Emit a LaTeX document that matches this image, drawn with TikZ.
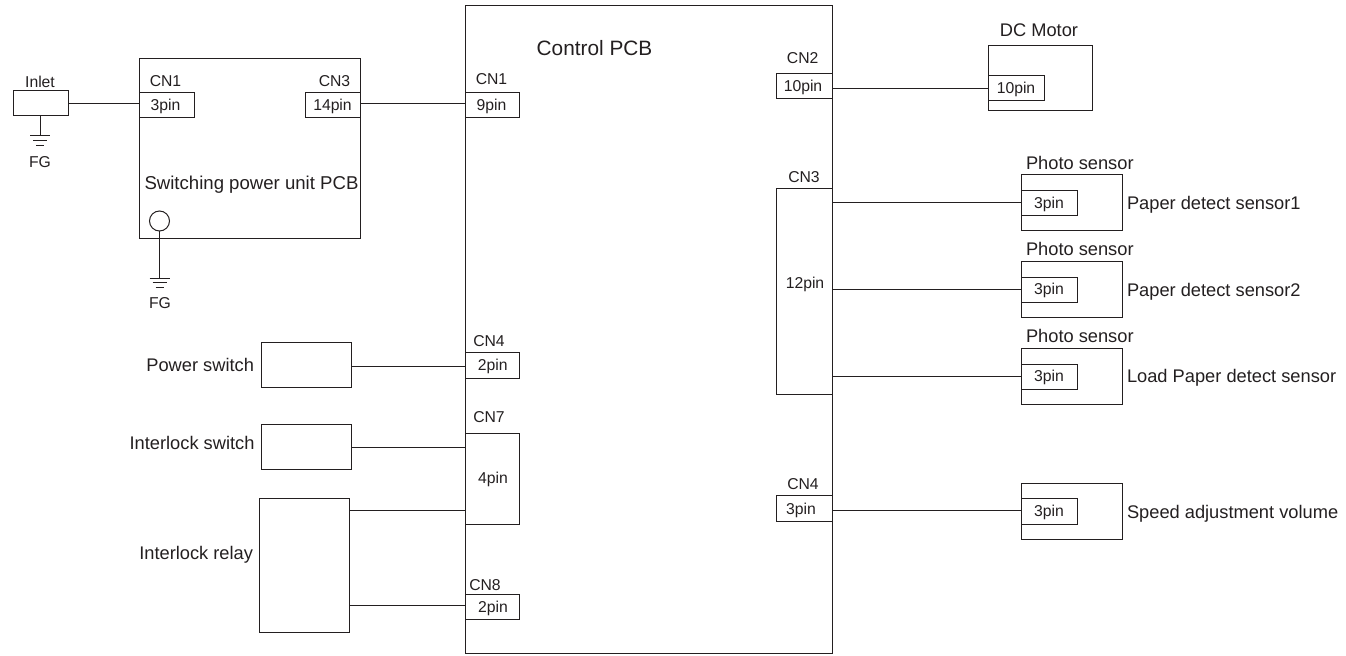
\documentclass[tikz,border=0pt]{standalone}
\usepackage{fontspec}
\setmainfont{Liberation Sans}
\definecolor{ink}{HTML}{231F20}
\tikzset{
  boxn/.style={draw=ink,line width=0.75pt,rectangle,inner sep=0pt,outer sep=0pt},
  wire/.style={draw=ink,line width=0.75pt},
  lbl/.style={text=ink,inner sep=0pt,outer sep=0pt,font=\fontsize{13.7pt}{15pt}\selectfont},
  sml/.style={text=ink,inner sep=0pt,outer sep=0pt,font=\fontsize{11.8pt}{13pt}\selectfont},
}
\newcommand{\rectnode}[5]{%
  \pgfmathsetmacro\rw{(#4-#2)*0.75}\pgfmathsetmacro\rh{(#5-#3)*0.75}%
  \node[boxn,minimum width=\rw pt,minimum height=\rh pt] (#1) at ({(#2+#4)/2},{(#3+#5)/2}) {};}
\newcommand{\wireh}[3]{\draw[wire] (#1.east |- 0,#3) -- (#2.west |- 0,#3);}
\begin{document}
\begin{tikzpicture}[x=0.75pt,y=-0.75pt]
\useasboundingbox (0,0) rectangle (1346,656);
% main boards
\rectnode{pcb}{465}{6}{832}{653}
\rectnode{psu}{139.5}{59}{360}{238.5}
\rectnode{inlet}{13.5}{90.7}{68}{116}
% connectors
\rectnode{psuA}{139.5}{92.5}{194.5}{118}
\rectnode{psuC}{305}{92.5}{360}{118}
\rectnode{pcbAa}{465}{92.5}{519.5}{118}
\rectnode{pcbD}{465}{352.7}{519.5}{378}
\rectnode{pcbG}{465}{433.3}{519.5}{524}
\rectnode{pcbH}{465}{594}{519.5}{619.5}
\rectnode{pcbB}{776.7}{73.3}{832}{98.7}
\rectnode{pcbC}{776.7}{189}{832}{394}
\rectnode{pcbE}{776.7}{495.7}{832}{521}
% left devices
\rectnode{pwr}{261}{342}{351.5}{387.5}
\rectnode{ilsw}{261}{424}{351.5}{469.5}
\rectnode{relay}{259}{498}{349.5}{632}
% right devices
\rectnode{motor}{988.7}{46}{1092}{111}
\rectnode{motorC}{988.7}{75.5}{1044}{101}
\rectnode{sa}{1021.7}{175}{1122}{231}
\rectnode{saC}{1021.7}{190.5}{1077}{216}
\rectnode{sb}{1021.7}{261.3}{1122}{317.3}
\rectnode{sbC}{1021.7}{277}{1077}{302.5}
\rectnode{sc}{1021.7}{348}{1122}{404}
\rectnode{scC}{1021.7}{364}{1077}{389}
\rectnode{sd}{1021.7}{483}{1122}{539}
\rectnode{sdC}{1021.7}{498.5}{1077}{524}
% wires
\wireh{inlet}{psuA}{104}
\wireh{psuC}{pcbAa}{104}
\wireh{pwr}{pcbD}{366}
\wireh{ilsw}{pcbG}{447.5}
\wireh{relay}{pcbG}{510}
\wireh{relay}{pcbH}{605}
\wireh{pcbB}{motorC}{88.5}
\wireh{pcbC}{saC}{203}
\wireh{pcbC}{sbC}{289.7}
\wireh{pcbC}{scC}{376}
\wireh{pcbE}{sdC}{510}
% grounds
\coordinate (g1) at (40,136);
\draw[wire] (inlet.south -| g1) -- (g1);
\draw[wire] (30,136) -- (50,136) (33,140.7) -- (47,140.7) (36,145.3) -- (44,145.3);
\node[boxn,circle,minimum size=15pt] (gc) at (159.5,221) {};
\coordinate (g2) at (159.5,278);
\draw[wire] (gc.south) -- (g2);
\draw[wire] (149.5,278) -- (169.5,278) (152.5,282.7) -- (166.5,282.7) (155.5,287.3) -- (163.5,287.3);
% small labels
\node[sml] (tFGa) at (40,162) {FG};
\node[sml] (tFGb) at (160,303) {FG};
\node[sml] (tInlet) at (40,81.5) {Inlet};
\node[sml] (tA) at (165.5,81.5) {CN1};
\node[sml] (tB) at (165.5,106) {3pin};
\node[sml] (tC) at (334.5,81.5) {CN3};
\node[sml] (tD) at (332.5,106.5) {14pin};
\node[sml] (tE) at (491.5,79) {CN1};
\node[sml] (tF) at (491.5,106) {9pin};
\node[sml] (tG) at (489,341) {CN4};
\node[sml] (tH) at (492.7,366.5) {2pin};
\node[sml] (tI) at (489,417) {CN7};
\node[sml] (tJ) at (493,479.5) {4pin};
\node[sml] (tK) at (485,585) {CN8};
\node[sml] (tL) at (493,608.5) {2pin};
\node[sml] (tM) at (802.7,58.5) {CN2};
\node[sml] (tN) at (803,87.5) {10pin};
\node[sml] (tO) at (804,177) {CN3};
\node[sml] (tP) at (805,284.5) {12pin};
\node[sml] (tQ) at (803,484) {CN4};
\node[sml] (tR) at (801,510.5) {3pin};
\node[sml] (tS) at (1016,89.5) {10pin};
\node[sml] (tT) at (1049,204.5) {3pin};
\node[sml] (tU) at (1049,290.5) {3pin};
\node[sml] (tV) at (1049,377.5) {3pin};
\node[sml] (tW) at (1049,512.5) {3pin};
% large labels
\node[lbl,font=\fontsize{13.95pt}{15pt}\selectfont] (lPsu) at (251.5,184.5) {Switching power unit PCB};
\node[lbl,font=\fontsize{15.6pt}{17pt}\selectfont] (lPcb) at (594.5,48.5) {Control PCB};
\node[lbl,anchor=east] (lPwr) at (254,365) {Power switch};
\node[lbl,anchor=east] (lSw) at (254.5,443) {Interlock switch};
\node[lbl,anchor=east] (lRel) at (253,554.5) {Interlock relay};
\node[lbl] (lMot) at (1039,30.7) {DC Motor};
\node[lbl,anchor=west] (pa) at (1026,163) {Photo sensor};
\node[lbl,anchor=west] (pb) at (1026,249) {Photo sensor};
\node[lbl,anchor=west] (pc) at (1026,336) {Photo sensor};
\node[lbl,anchor=west] (ra) at (1127,204.5) {Paper detect sensor1};
\node[lbl,anchor=west] (rb) at (1127,291.5) {Paper detect sensor2};
\node[lbl,anchor=west] (rc) at (1127,377.5) {Load Paper detect sensor};
\node[lbl,anchor=west] (rd) at (1127,514) {Speed adjustment volume};
\end{tikzpicture}
\end{document}
